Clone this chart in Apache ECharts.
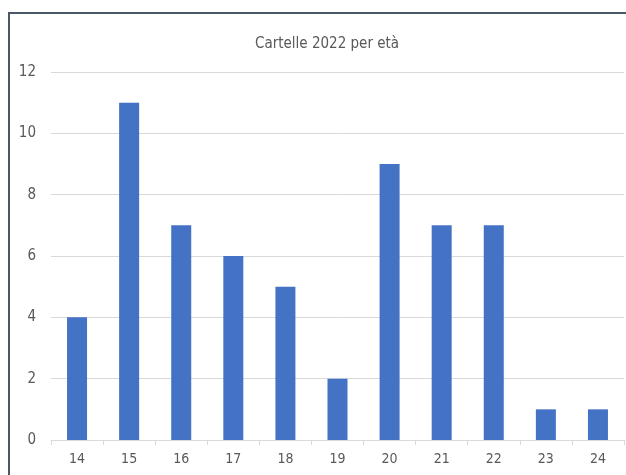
<!DOCTYPE html>
<html>
<head>
<meta charset="utf-8">
<script src="https://cdn.jsdelivr.net/npm/echarts@6/dist/echarts.min.js"></script>
<style>
html,body{margin:0;padding:0;background:#fff;}
#frame{position:absolute;left:8px;top:12px;width:640px;height:480px;border-left:2px solid #4b5668;border-top:2px solid #4b5668;}
#chart{position:absolute;left:0;top:0;width:626px;height:475px;}
</style>
</head>
<body>
<div id="frame"></div>
<div id="chart"></div>
<script>
const title = 'Cartelle 2022 per età';
const categories = ['14','15','16','17','18','19','20','21','22','23','24'];
const values = [4, 11, 7, 6, 5, 2, 9, 7, 7, 1, 1];
const yTicks = {min: 0, max: 12, interval: 2};

const font = "'Liberation Sans Narrow', 'DejaVu Sans Condensed', sans-serif";
const chart = echarts.init(document.getElementById('chart'), null, {renderer: 'canvas'});
chart.setOption({
  animation: false,
  title: {
    text: title, left: 250, top: 32,
    textStyle: {fontFamily: font, fontSize: 15, fontWeight: 'normal', color: '#595959'}
  },
  grid: {left: 51, right: 2, top: 72, bottom: 35, containLabel: false},
  xAxis: {
    type: 'category', data: categories, boundaryGap: true,
    axisLine: {lineStyle: {color: '#d9d9d9', width: 1}},
    axisTick: {show: true, length: 5, lineStyle: {color: '#d9d9d9'}},
    axisLabel: {fontFamily: font, fontSize: 14, color: '#595959', margin: 12}
  },
  yAxis: {
    type: 'value', min: yTicks.min, max: yTicks.max, interval: yTicks.interval,
    axisLine: {show: false}, axisTick: {show: false},
    axisLabel: {fontFamily: font, fontSize: 15, color: '#595959', margin: 15},
    splitLine: {lineStyle: {color: '#d9d9d9', width: 1}}
  },
  series: [{
    type: 'bar', data: values, barWidth: 20,
    itemStyle: {color: '#4472c4'}
  }]
});
</script>
</body>
</html>
